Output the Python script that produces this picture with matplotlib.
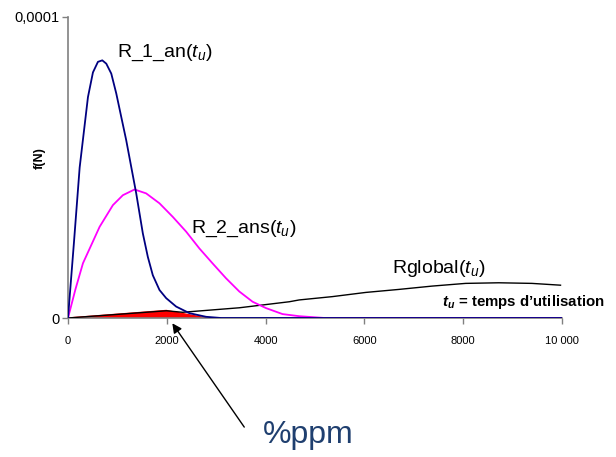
import matplotlib
matplotlib.use("Agg")
import matplotlib.pyplot as plt
import numpy as np

plt.rcParams["font.family"] = ["Liberation Sans", "DejaVu Sans"]
plt.rcParams["mathtext.fontset"] = "custom"
plt.rcParams["mathtext.rm"] = "Liberation Sans"
plt.rcParams["mathtext.it"] = "Liberation Sans:italic"
plt.rcParams["mathtext.bf"] = "Liberation Sans:bold"
plt.rcParams["mathtext.bfit"] = "Liberation Sans:italic:bold"

# values in units of 1e-5
t_r1 = [0, 120, 236, 404, 505, 606, 694, 775, 876, 977, 1078, 1178, 1280, 1381, 1515,
        1616, 1717, 1852, 1987, 2189, 2458, 2795, 3100, 10000]
f_r1 = [0, 2.5, 5.0, 7.34, 8.16, 8.51, 8.56, 8.45, 8.12, 7.46, 6.68, 5.91, 5.02, 4.14, 2.81,
        2.03, 1.42, 0.93, 0.66, 0.38, 0.16, 0.04, 0.0, 0.0]

t_r2 = [0, 150, 303, 640, 909, 1111, 1347, 1582, 1852, 2121, 2391, 2660, 2929, 3199, 3468,
        3737, 4007, 4343, 4680, 5200, 10000]
f_r2 = [0, 0.95, 1.82, 3.03, 3.75, 4.08, 4.27, 4.14, 3.81, 3.36, 2.87, 2.31, 1.81, 1.32, 0.88,
        0.54, 0.33, 0.13, 0.06, 0.0, 0.0]

t_glob = [0, 1000, 1990, 2320, 3470, 4480, 4680, 5350, 6030, 6700, 7370, 8050, 8720, 9390, 9970]
f_glob = [0, 0.12, 0.24, 0.19, 0.34, 0.54, 0.60, 0.71, 0.85, 0.95, 1.06, 1.15, 1.17, 1.15, 1.09]

t_ppm = [0, 1990, 2800]
f_ppm = [0, 0.25, 0]

x_ticks = [0, 2000, 4000, 6000, 8000, 10000]
x_labels = ["0", "2000", "4000", "6000", "8000", "10 000"]
y_ticks = [0, 1e-4]
y_labels = ["0", "0,0001"]

scale = 1e-5

fig = plt.figure(figsize=(6.16, 4.57), dpi=100)
ax = fig.add_axes([68 / 616, 1 - 318 / 457, (562 - 68) / 616, (318 - 17) / 457])

ax.fill(t_ppm, np.array(f_ppm) * scale, color="#ff0000", zorder=2)
ax.plot(t_glob, np.array(f_glob) * scale, color="black", lw=1.0, zorder=3)
ax.plot(t_r2, np.array(f_r2) * scale, color="#ff00ff", lw=1.3, zorder=4)
ax.plot(t_r1, np.array(f_r1) * scale, color="#000080", lw=1.3, zorder=5)

ax.set_xlim(0, 10000)
ax.set_ylim(0, 1e-4)
ax.set_xticks(x_ticks)
ax.set_xticklabels(x_labels, fontsize=8)
ax.set_yticks(y_ticks)
ax.set_yticklabels(y_labels, fontsize=10.5)
ax.tick_params(axis="both", direction="out", length=4, color="#808080", width=1)
ax.tick_params(axis="x", pad=9)
ax.tick_params(axis="y", pad=2)
for side in ("top", "right"):
    ax.spines[side].set_visible(False)
ax.spines["left"].set_color("#808080")
ax.spines["bottom"].set_color("#808080")
ax.spines["left"].set_linewidth(1.2)
ax.spines["bottom"].set_linewidth(1.2)

ax.set_ylabel("f(N)", fontsize=9, fontweight="bold")
ax.yaxis.set_label_coords(-(68 - 46) / 494, 0.53)

ax.text(1000, 8.8e-5, "R_1_an($\\mathit{t_u}$)", fontsize=14, va="center", ha="left")
ax.text(2480, 2.95e-5, "R_2_ans($\\mathit{t_u}$)", fontsize=14, va="center", ha="left")
ax.text(6550, 1.65e-5, "Rglobal($\\mathit{t_u}$)", fontsize=14, va="center", ha="left")
ax.text(7580, 0.53e-5, "$\\mathbfit{t_u}$ = temps d\u2019utilisation", fontsize=10.8,
        fontweight="bold", va="center", ha="left")

ax.annotate("", xy=(2080, -0.1e-5), xytext=(3600, -3.7e-5),
            arrowprops=dict(arrowstyle="-|>", color="black", lw=1, mutation_scale=14),
            annotation_clip=False)
ax.text(3950, -3.9e-5, "%ppm", fontsize=23, color="#1f3f6f", va="center", ha="left")

fig.savefig("out.png", dpi=100)
